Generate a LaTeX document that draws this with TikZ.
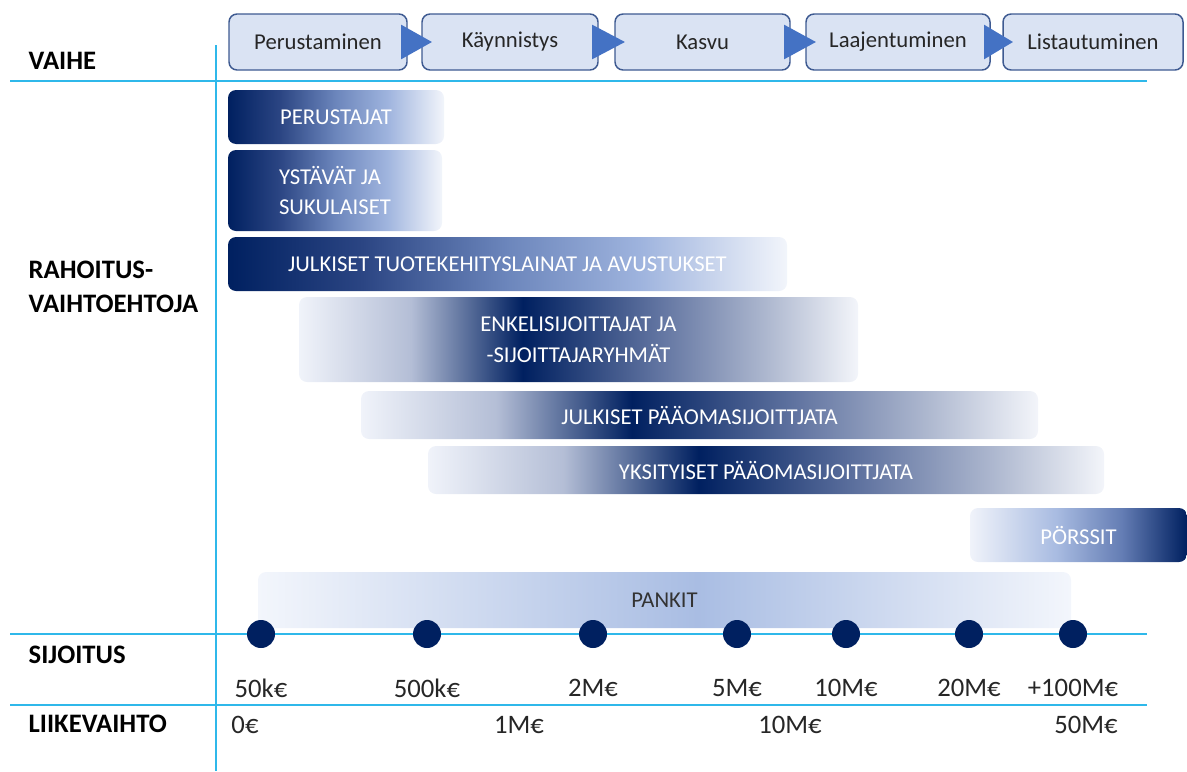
\documentclass[tikz,border=0pt]{standalone}
\usepackage{fontspec}
\setmainfont{Carlito}
\usetikzlibrary{positioning}

\definecolor{navy}{HTML}{002060}
\definecolor{axisblue}{HTML}{2FB8EA}
\definecolor{phasefill}{HTML}{DAE3F3}
\definecolor{phaseline}{HTML}{3E5A91}
\definecolor{tipblue}{HTML}{4472C4}

% horizontal shadings, path covers 25bp..75bp
\pgfdeclarehorizontalshading{darkfade}{100bp}{color(0bp)=(navy); color(25bp)=(navy);
  color(37bp)=(rgb,255:red,43;green,69;blue,131); color(50bp)=(rgb,255:red,108;green,134;blue,188);
  color(62bp)=(rgb,255:red,159;green,180;blue,222); color(75bp)=(rgb,255:red,242;green,245;blue,251); color(100bp)=(white)}
\pgfdeclarehorizontalshading{peakfade}{100bp}{color(0bp)=(white); color(25bp)=(rgb,255:red,240;green,243;blue,250);
  color(35bp)=(rgb,255:red,180;green,190;blue,214); color(45bp)=(navy);
  color(57bp)=(rgb,255:red,96;green,115;blue,160); color(67bp)=(rgb,255:red,175;green,185;blue,208);
  color(75bp)=(rgb,255:red,243;green,245;blue,250); color(100bp)=(white)}
\pgfdeclarehorizontalshading{risefade}{100bp}{color(0bp)=(white); color(25bp)=(rgb,255:red,240;green,243;blue,250);
  color(45bp)=(rgb,255:red,168;green,187;blue,225); color(60bp)=(rgb,255:red,100;green,125;blue,180);
  color(75bp)=(navy); color(100bp)=(navy)}
\pgfdeclarehorizontalshading{palefade}{100bp}{color(0bp)=(white); color(25bp)=(rgb,255:red,243;green,246;blue,252);
  color(52bp)=(rgb,255:red,169;green,189;blue,227); color(75bp)=(rgb,255:red,243;green,246;blue,252); color(100bp)=(white)}

\begin{document}
\begin{tikzpicture}[x=0.75pt,y=-0.75pt,
	axis/.style={axisblue,line width=1.8pt},
	phase/.style={draw=phaseline,fill=phasefill,line width=1.1pt,rounded corners=6pt,
		minimum height=42pt,inner sep=0pt,font=\fontsize{17}{20}\selectfont,text=black!85},
	bar/.style={rounded corners=6pt,inner sep=0pt,text=white,
		font=\fontsize{17}{23}\selectfont,align=center},
	rowlabel/.style={anchor=west,font=\bfseries\fontsize{20}{26}\selectfont,align=left},
	amount/.style={font=\fontsize{20}{24}\selectfont,text=black!85}]
	\useasboundingbox (0,0) rectangle (1187,771);
	
	% grid lines
	\draw[axis] (216,45) -- (216,771);
	\draw[axis] (10,81) -- (1147,81);
	\draw[axis] (10,634) -- (1147,634);
	\draw[axis] (10,705) -- (1147,705);
	
	\node[rowlabel] (vaihe) at (24,61) {VAIHE};
	\node[rowlabel] (rahoitus) at (24,287) {RAHOITUS-\\VAIHTOEHTOJA};
	\node[rowlabel] (sijoitus) at (24,655) {SIJOITUS};
	\node[rowlabel] (liikevaihto) at (24,724) {LIIKEVAIHTO};
	
	% phases
	\node[phase,minimum width=133.5pt] (p1) at (318,42) {Perustaminen};
	\node[phase,minimum width=132pt] (p2) at (510,42) {Käynnistys};
	\node[phase,minimum width=131.25pt] (p3) at (702.5,42) {Kasvu};
	\node[phase,minimum width=138pt] (p4) at (898,42) {Laajentuminen};
	\node[phase,minimum width=135pt] (p5) at (1093,42) {Listautuminen};
	\foreach \a/\b in {p1/p2,p2/p3,p3/p4,p4/p5}
		\fill[tipblue] ([xshift=-5pt,yshift=13pt]\a.east) -- ([xshift=-5pt,yshift=-13pt]\a.east)
			-- ([xshift=8pt]\b.west) -- cycle;
	
	% financing options
	\begin{scope}[every node/.append style={bar}]
	\node[shading=darkfade,minimum width=162pt,minimum height=40.5pt] (perustajat) at (336,117) {PERUSTAJAT};
	\node[shading=darkfade,minimum width=160.5pt,minimum height=60.75pt,align=left] (ystavat) at (335,190.5) {YSTÄVÄT JA\\SUKULAISET};
	\node[shading=darkfade,minimum width=419.25pt,minimum height=40.5pt] (tuotekehitys) at (507.5,264) {JULKISET TUOTEKEHITYSLAINAT JA AVUSTUKSET};
	\node[shading=peakfade,minimum width=419.25pt,minimum height=63.75pt] (enkelit) at (578.5,339.5) {ENKELISIJOITTAJAT JA\\-SIJOITTAJARYHMÄT};
	\node[shading=peakfade,minimum width=507.75pt,minimum height=36pt] (julkiset) at (699.5,415) {JULKISET PÄÄOMASIJOITTJATA};
	\node[shading=peakfade,minimum width=507pt,minimum height=36pt] (yksityiset) at (766,470) {YKSITYISET PÄÄOMASIJOITTJATA};
	\node[shading=risefade,minimum width=162.75pt,minimum height=40.5pt] (porssit) at (1078.5,535) {PÖRSSIT};
	\node[shading=palefade,minimum width=609.75pt,minimum height=42pt,text=black!80] (pankit) at (664.5,600) {PANKIT};
	\end{scope}
	
	% investment and turnover scale
	\foreach \x/\amt [count=\i] in {261/50k€,427/500k€,593/2M€,737/5M€,846/10M€,969/20M€,1073/+100M€}{
		\node[circle,fill=navy,inner sep=0pt,minimum size=21pt] (d\i) at (\x,634) {};
		\node[amount] (s\i) at (\x,688) {\amt};
	}
	\foreach \x/\amt [count=\i] in {245/0€,519/1M€,790/10M€,1086/50M€}
		\node[amount] (t\i) at (\x,725) {\amt};
\end{tikzpicture}
\end{document}
